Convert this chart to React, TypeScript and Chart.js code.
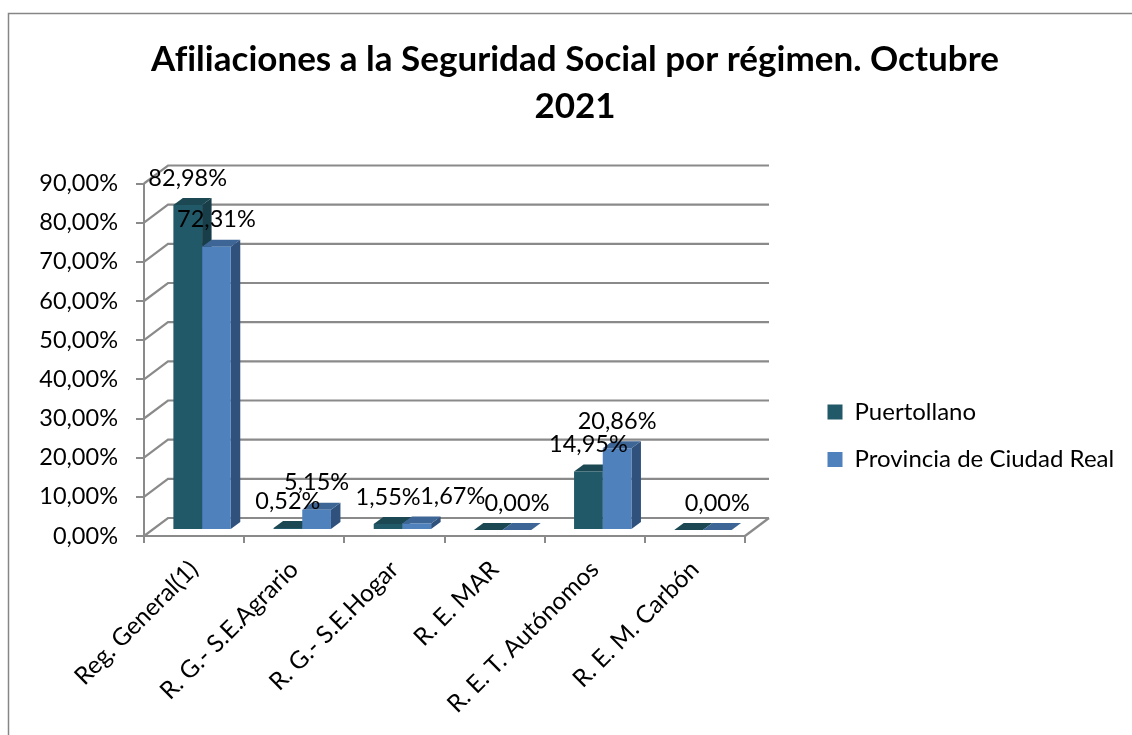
import React, { useEffect, useRef } from "react";
import { Chart, registerables } from "chart.js";

Chart.register(...registerables);

const categories = ["Reg. General(1)", "R. G.- S.E.Agrario", "R. G.- S.E.Hogar", "R. E. MAR", "R. E. T. Autónomos", "R. E. M. Carbón"];
const puertollano = [82.98, 0.52, 1.55, 0, 14.95, 0];
const provincia = [72.31, 5.15, 1.67, 0, 20.86, 0];
const titleLines = ["Afiliaciones a la Seguridad Social por régimen. Octubre", "2021"];

const FONT = "Lato, Carlito, Calibri, sans-serif";
const TICK_SIZE = 23.5;
const LEGEND_SIZE = 24;
const GRID = "#8a8a8a";
const FRONT = ["#215968", "#4f81bd"];
const TOP = ["#1b4853", "#3d6595"];
const SIDE = ["#173e49", "#30517b"];

const WALL = { x: 24, y: -18 };
const BAR_SHIFT = { x: 8, y: -6 };
const BAR_DEPTH = { x: 9.5, y: -7 };
const LABEL_RAISE = 27;
const LABEL_SHIFT: number[][] = [[0, 0, 0, 0, 0, 0], [0, 0, 36, 0, 0, 0]];

const fmt = (v: number) => v.toFixed(2).replace(".", ",") + "%";

const scene = {
  id: "scene",
  afterLayout(chart: any) {
    const t = chart.titleBlock;
    t.left = 0;
    t.right = 1150;
    const l = chart.legend;
    const pad = l.options.labels.padding;
    l.left = 827.5 - pad;
    l.right = 1132;
    l.top = 412 - pad - LEGEND_SIZE / 2;
    l.bottom = l.top + 120;
  },
  beforeDraw(chart: any) {
    const ctx = chart.ctx;
    ctx.letterSpacing = "0.01px";
    ctx.save();
    ctx.strokeStyle = "#868686";
    ctx.lineWidth = 1.5;
    ctx.beginPath();
    ctx.moveTo(8.5, 735);
    ctx.lineTo(8.5, 13.5);
    ctx.lineTo(1132, 13.5);
    ctx.stroke();
    ctx.restore();
  },
  beforeDatasetsDraw(chart: any) {
    const ctx = chart.ctx;
    const { x: xs, y: ys } = chart.scales;
    ctx.save();
    ctx.strokeStyle = GRID;
    ctx.lineWidth = 2.2;
    ys.ticks.forEach((t: any) => {
      const y = ys.getPixelForValue(t.value);
      ctx.beginPath();
      ctx.moveTo(xs.left, y);
      ctx.lineTo(xs.left + WALL.x, y + WALL.y);
      ctx.lineTo(xs.right + WALL.x, y + WALL.y);
      ctx.stroke();
    });
    const by = ys.getPixelForValue(0);
    ctx.beginPath();
    ctx.moveTo(xs.right, by);
    ctx.lineTo(xs.right + WALL.x, by + WALL.y);
    ctx.stroke();

    chart.data.datasets.forEach((_: any, di: number) => {
      chart.getDatasetMeta(di).data.forEach((bar: any) => {
        const l = bar.x - bar.width / 2 + BAR_SHIFT.x;
        const r = bar.x + bar.width / 2 + BAR_SHIFT.x;
        const t = bar.y + BAR_SHIFT.y;
        const b = bar.base + BAR_SHIFT.y;
        ctx.fillStyle = SIDE[di];
        ctx.beginPath();
        ctx.moveTo(r, t);
        ctx.lineTo(r + BAR_DEPTH.x, t + BAR_DEPTH.y);
        ctx.lineTo(r + BAR_DEPTH.x, b + BAR_DEPTH.y);
        ctx.lineTo(r, b);
        ctx.closePath();
        ctx.fill();
        ctx.fillStyle = TOP[di];
        ctx.beginPath();
        ctx.moveTo(l, t);
        ctx.lineTo(l + BAR_DEPTH.x, t + BAR_DEPTH.y);
        ctx.lineTo(r + BAR_DEPTH.x, t + BAR_DEPTH.y);
        ctx.lineTo(r, t);
        ctx.closePath();
        ctx.fill();
      });
    });
    ctx.restore();
    ctx.save();
    ctx.translate(BAR_SHIFT.x, BAR_SHIFT.y);
  },
  afterDatasetsDraw(chart: any) {
    const ctx = chart.ctx;
    ctx.restore();
    ctx.save();
    ctx.fillStyle = "#000";
    ctx.font = `${TICK_SIZE}px ${FONT}`;
    ctx.textAlign = "center";
    ctx.textBaseline = "middle";
    chart.data.datasets.forEach((ds: any, di: number) => {
      chart.getDatasetMeta(di).data.forEach((bar: any, i: number) => {
        if (di === 0 && ds.data[i] === 0) return;
        ctx.fillText(fmt(ds.data[i]), bar.x + BAR_SHIFT.x + LABEL_SHIFT[di][i], bar.y + BAR_SHIFT.y - LABEL_RAISE);
      });
    });
    ctx.restore();
  },
};

export default function App() {
  const ref = useRef<HTMLCanvasElement>(null);
  useEffect(() => {
    const chart = new Chart(ref.current!, {
      type: "bar",
      data: {
        labels: categories,
        datasets: [
          { label: "Puertollano", data: puertollano, backgroundColor: FRONT[0], borderWidth: 0, clip: false } as any,
          { label: "Provincia de Ciudad Real", data: provincia, backgroundColor: FRONT[1], borderWidth: 0, clip: false } as any,
        ],
      },
      options: {
        responsive: false,
        animation: false,
        layout: { padding: { left: 0, top: 0, bottom: 0, right: 287 } },
        datasets: { bar: { categoryPercentage: 0.573, barPercentage: 1 } },
        plugins: {
          tooltip: { enabled: false },
          title: {
            display: true,
            text: titleLines,
            color: "#000",
            font: { family: FONT, size: 35, weight: "bold", lineHeight: 47 / 35 },
            padding: { top: 36.5, bottom: 53 },
          },
          legend: {
            position: "right",
            align: "start",
            maxWidth: 100,
            labels: {
              boxWidth: 15,
              boxHeight: 15,
              padding: 23.5,
              color: "#000",
              font: { family: FONT, size: LEGEND_SIZE },
            },
          },
        },
        scales: {
          x: {
            afterFit: (s: any) => { s.height = 199; },
            border: { color: GRID, width: 2 },
            grid: { color: GRID, lineWidth: 2, drawOnChartArea: false, tickLength: 7, offset: true },
            ticks: { color: "#000", font: { family: FONT, size: 24.4 }, maxRotation: 45, minRotation: 45, autoSkip: false, padding: 12 },
          },
          y: {
            min: 0,
            max: 90,
            afterFit: (s: any) => { s.width = 144; },
            border: { color: GRID, width: 2 },
            grid: { color: GRID, lineWidth: 2, drawOnChartArea: false, tickLength: 8 },
            ticks: { color: "#000", stepSize: 10, font: { family: FONT, size: TICK_SIZE }, padding: 18, callback: (v: any) => fmt(Number(v)) },
          },
        },
      },
      plugins: [scene],
    } as any);
    return () => chart.destroy();
  }, []);
  return (
    <canvas
      ref={ref}
      width={1132}
      height={735}
      style={{ position: "fixed", left: 0, top: 0, display: "block", background: "#fff" }}
    />
  );
}
